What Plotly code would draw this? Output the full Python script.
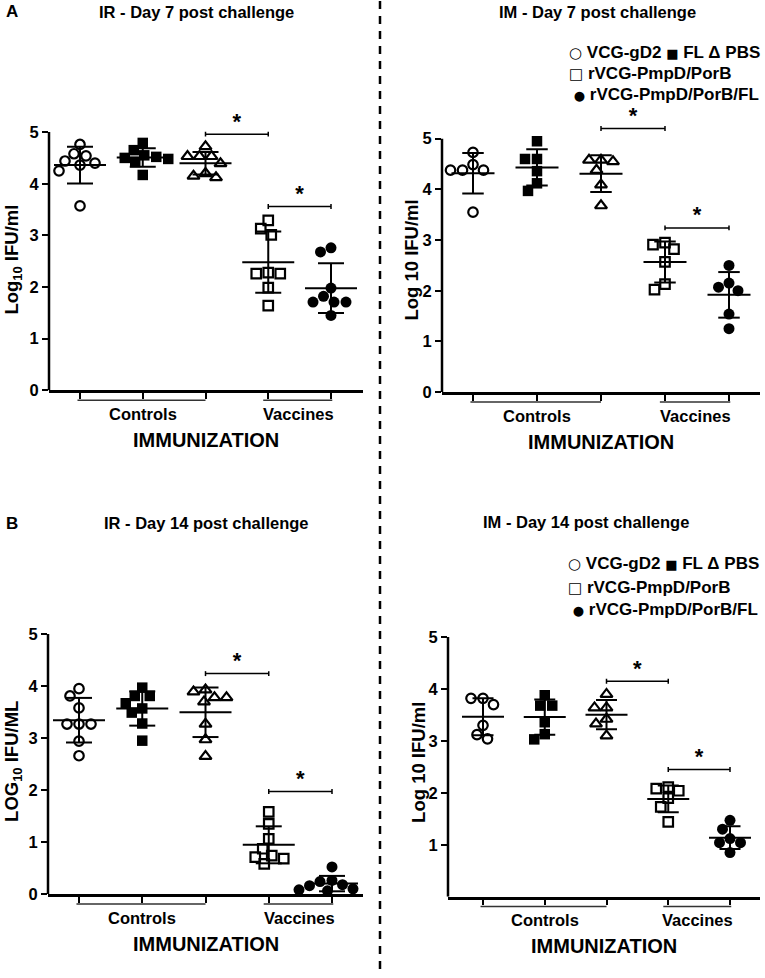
import numpy as np
import plotly.graph_objects as go

W, H = 765, 978
FONT = "Liberation Sans, Arial, sans-serif"

# ---------------- data ----------------
groups = ["VCG-gD2", "FL", "PBS", "rVCG-PmpD/PorB", "rVCG-PmpD/PorB/FL"]
legend_symbols = ["○", "■", "Δ", "□", "●"]
category_labels = ["Controls", "Vaccines"]
x_title = "IMMUNIZATION"
y_ticks = [0, 1, 2, 3, 4, 5]

panel_titles = ["IR - Day 7 post challenge", "IM - Day 7 post challenge",
                "IR - Day 14 post challenge", "IM - Day 14 post challenge"]
y_titles = ["Log<sub>10</sub> IFU/ml", "Log 10 IFU/ml",
            "LOG<sub>10</sub> IFU/ML", "Log 10 IFU/ml"]

# IR - Day 7
ir_d7_vcg_gd2 = [4.76, 4.58, 4.54, 4.44, 4.40, 4.36, 4.25, 3.57]
ir_d7_fl = [4.79, 4.65, 4.55, 4.52, 4.50, 4.48, 4.42, 4.17]
ir_d7_pbs = [4.72, 4.53, 4.53, 4.53, 4.39, 4.20, 4.12, 4.15]
ir_d7_pmpd_porb = [3.29, 3.13, 3.01, 2.28, 2.26, 2.26, 1.99, 1.64]
ir_d7_pmpd_porb_fl = [2.76, 2.68, 1.98, 1.82, 1.71, 1.71, 1.71, 1.45]

# IM - Day 7
im_d7_vcg_gd2 = [4.73, 4.49, 4.38, 4.38, 4.38, 3.55]
im_d7_fl = [4.95, 4.60, 4.60, 4.36, 4.12, 3.97]
im_d7_pbs = [4.58, 4.58, 4.55, 4.38, 4.09, 3.68]
im_d7_pmpd_porb = [2.95, 2.91, 2.82, 2.57, 2.13, 2.02]
im_d7_pmpd_porb_fl = [2.50, 2.15, 2.07, 2.00, 1.54, 1.25]

# IR - Day 14
ir_d14_vcg_gd2 = [3.95, 3.81, 3.58, 3.27, 3.27, 3.27, 2.94, 2.66]
ir_d14_fl = [3.97, 3.81, 3.81, 3.67, 3.57, 3.49, 3.28, 2.95]
ir_d14_pbs = [3.93, 3.89, 3.78, 3.78, 3.70, 3.27, 2.97, 2.65]
ir_d14_pmpd_porb = [1.58, 1.35, 1.06, 0.87, 0.74, 0.71, 0.68, 0.58]
ir_d14_pmpd_porb_fl = [0.52, 0.26, 0.24, 0.18, 0.16, 0.10, 0.08, 0.06]

# IM - Day 14
im_d14_vcg_gd2 = [3.82, 3.82, 3.70, 3.30, 3.12, 3.04]
im_d14_fl = [3.88, 3.68, 3.68, 3.36, 3.13, 3.03]
im_d14_pbs = [3.90, 3.64, 3.64, 3.42, 3.33, 3.10]
im_d14_pmpd_porb = [2.11, 2.08, 2.04, 1.90, 1.73, 1.44]
im_d14_pmpd_porb_fl = [1.47, 1.30, 1.12, 1.04, 1.04, 0.85]

# significance comparisons: (from group, to group)
sig_pairs = [(3, 4), (4, 5)]

# ---------------- layout / style ----------------
YMAX = 5.6
marker_styles = [
    dict(symbol="circle-open", size=9.5, color="black", line=dict(width=2.2, color="black")),
    dict(symbol="square", size=10.5, color="black", line=dict(width=0)),
    dict(symbol="triangle-up-open", size=10.5, color="black", line=dict(width=2.2, color="black")),
    dict(symbol="square-open", size=9.5, color="black", line=dict(width=2.2, color="black")),
    dict(symbol="circle", size=11, color="black", line=dict(width=0)),
]

panels = [
    dict(data=[ir_d7_vcg_gd2, ir_d7_fl, ir_d7_pbs, ir_d7_pmpd_porb, ir_d7_pmpd_porb_fl],
         xpx=(49, 363), t1=80, t5=331, y0px=394, y5px=133.3, mean_hw=26, sig_y=[4.96, 3.56],
         yticks=y_ticks, title_xy=(197, 12), ytitle_xy=(13, 262), legend=None, letter=("A", 12, 12)),
    dict(data=[im_d7_vcg_gd2, im_d7_fl, im_d7_pbs, im_d7_pmpd_porb, im_d7_pmpd_porb_fl],
         xpx=(442, 760), t1=473, t5=729, y0px=395.7, y5px=140, mean_hw=21.5, sig_y=[5.2, 3.24],
         yticks=y_ticks, title_xy=(597, 12), ytitle_xy=(412, 263), legend=(567, [53, 74, 95]), letter=None),
    dict(data=[ir_d14_vcg_gd2, ir_d14_fl, ir_d14_pbs, ir_d14_pmpd_porb, ir_d14_pmpd_porb_fl],
         xpx=(48, 363), t1=79, t5=332, y0px=902.3, y5px=640, mean_hw=26, sig_y=[4.24, 1.97],
         yticks=y_ticks, title_xy=(206, 528), ytitle_xy=(13, 769), legend=None, letter=("B", 12, 528)),
    dict(data=[im_d14_vcg_gd2, im_d14_fl, im_d14_pbs, im_d14_pmpd_porb, im_d14_pmpd_porb_fl],
         xpx=(448, 760), t1=483, t5=730, y0px=905, y5px=643, mean_hw=21, sig_y=[4.15, 2.45],
         yticks=y_ticks[1:], title_xy=(586, 527), ytitle_xy=(419, 770), legend=(566, [569, 593, 615]), letter=None),
]


def swarm(vals, xppu, yppu, diam=11.0, step=1.5):
    order = sorted(range(len(vals)), key=lambda i: -vals[i])
    placed, offs = [], [0.0] * len(vals)
    for i in order:
        ypx = vals[i] * yppu
        m = 0
        while True:
            cands = [0.0] if m == 0 else [-m * step, m * step]
            ok = None
            for c in cands:
                if all((c - px) ** 2 + (ypx - py) ** 2 >= diam ** 2 for px, py in placed):
                    ok = c
                    break
            if ok is not None:
                offs[i] = ok
                placed.append((ok, ypx))
                break
            m += 1
    return [o / xppu for o in offs]


def bold(size):
    return dict(family=FONT, size=size, color="black", weight="bold")


def sym(s, size):
    return '<span style="font-family:DejaVu Sans;font-size:%dpx">%s</span>' % (size, s)


fig = go.Figure()
shapes, annotations = [], []
legend_lines = [sym(legend_symbols[0], 15) + " " + groups[0] + " " + sym(legend_symbols[1], 13) + " "
                + groups[1] + " " + legend_symbols[2] + " " + groups[2],
                sym(legend_symbols[3], 15) + " " + groups[3],
                " " + sym(legend_symbols[4], 13) + " " + groups[4]]

for k, p in enumerate(panels):
    sfx = "" if k == 0 else str(k + 1)
    xa, ya = "x" + sfx, "y" + sfx
    xppu = (p["t5"] - p["t1"]) / 4.0
    yppu = (p["y0px"] - p["y5px"]) / 5.0
    x_left = 1 - (p["t1"] - p["xpx"][0]) / xppu
    x_right = x_left + (p["xpx"][1] - p["xpx"][0]) / xppu
    top_px = p["y0px"] - YMAX * yppu
    plot_h = p["y0px"] - top_px

    fig.layout["xaxis" + sfx] = dict(
        domain=[p["xpx"][0] / W, p["xpx"][1] / W], range=[x_left, x_right], anchor=ya,
        showline=True, linewidth=2.5, linecolor="black", ticks="outside", ticklen=6,
        tickwidth=2, tickcolor="black", tickvals=[1, 2, 3, 4, 5], showticklabels=False,
        showgrid=False, zeroline=False, fixedrange=True)
    fig.layout["yaxis" + sfx] = dict(
        domain=[1 - p["y0px"] / H, 1 - top_px / H], range=[0, YMAX], anchor=xa,
        showline=False, ticks="outside", ticklen=6, tickwidth=2, tickcolor="black",
        tickvals=p["yticks"], ticktext=[str(t) for t in p["yticks"]], tickfont=bold(16.5),
        showgrid=False, zeroline=False, fixedrange=True)

    # y axis line from 0 to 5
    shapes.append(dict(type="line", xref=xa + " domain", yref=ya, x0=0, x1=0, y0=0, y1=5,
                       line=dict(color="black", width=2.5)))

    # data points
    mx, my = [], []
    for g, vals in enumerate(p["data"]):
        c = g + 1
        offs = swarm(vals, xppu, yppu)
        fig.add_trace(go.Scatter(x=[c + o for o in offs], y=vals, mode="markers",
                                 marker=marker_styles[g], xaxis=xa, yaxis=ya,
                                 name=groups[g], showlegend=False, cliponaxis=False))
        m = float(np.mean(vals))
        sd = float(np.std(vals, ddof=1))
        hw = p["mean_hw"] / xppu
        cw = hw * 0.5
        mx += [c - hw, c + hw, None, c, c, None, c - cw, c + cw, None, c - cw, c + cw, None]
        my += [m, m, None, m - sd, m + sd, None, m + sd, m + sd, None, m - sd, m - sd, None]
    fig.add_trace(go.Scatter(x=mx, y=my, mode="lines", line=dict(color="black", width=2),
                             xaxis=xa, yaxis=ya, showlegend=False, hoverinfo="skip"))

    # significance bars
    sx, sy, tx, ty = [], [], [], []
    cap = 2.5 / yppu
    for (a, b), yb in zip(sig_pairs, p["sig_y"]):
        sx += [a, a, None, a, b, None, b, b, None]
        sy += [yb - cap, yb + cap, None, yb, yb, None, yb - cap, yb + cap, None]
        tx.append((a + b) / 2.0)
        ty.append(yb)
    fig.add_trace(go.Scatter(x=sx, y=sy, mode="lines", line=dict(color="black", width=1.5),
                             xaxis=xa, yaxis=ya, showlegend=False, hoverinfo="skip"))
    fig.add_trace(go.Scatter(x=tx, y=ty, mode="text", text=["*"] * len(tx),
                             textposition="top center", textfont=bold(22),
                             xaxis=xa, yaxis=ya, showlegend=False, hoverinfo="skip",
                             cliponaxis=False))

    # category underlines and labels
    ul_y = -10.0 / plot_h
    shapes.append(dict(type="line", xref=xa, yref=ya + " domain", x0=0.96, x1=3.0, y0=ul_y, y1=ul_y,
                       line=dict(color="#333333", width=1.5)))
    shapes.append(dict(type="line", xref=xa, yref=ya + " domain", x0=3.92, x1=5.02, y0=ul_y, y1=ul_y,
                       line=dict(color="#333333", width=1.5)))
    annotations.append(dict(text=category_labels[0], xref=xa, yref=ya + " domain", x=2.0,
                            y=-24.0 / plot_h, showarrow=False, xanchor="center", yanchor="middle",
                            font=bold(16.5)))
    annotations.append(dict(text=category_labels[1], xref=xa, yref=ya + " domain", x=4.48,
                            y=-24.0 / plot_h, showarrow=False, xanchor="center", yanchor="middle",
                            font=bold(16.5)))
    annotations.append(dict(text=x_title, xref=xa + " domain", yref=ya + " domain", x=0.5,
                            y=-50.0 / plot_h, showarrow=False, xanchor="center", yanchor="middle",
                            font=bold(20)))

    # titles
    annotations.append(dict(text=panel_titles[k], xref="paper", yref="paper",
                            x=p["title_xy"][0] / W, y=1 - p["title_xy"][1] / H, showarrow=False,
                            xanchor="center", yanchor="middle", font=bold(16.5)))
    annotations.append(dict(text=y_titles[k], xref="paper", yref="paper", textangle=-90,
                            x=p["ytitle_xy"][0] / W, y=1 - p["ytitle_xy"][1] / H, showarrow=False,
                            xanchor="center", yanchor="middle", font=bold(18.5)))
    if p["letter"]:
        L, lx, ly = p["letter"]
        annotations.append(dict(text=L, xref="paper", yref="paper", x=lx / W, y=1 - ly / H,
                                showarrow=False, xanchor="center", yanchor="middle", font=bold(17)))
    if p["legend"]:
        lx, lys = p["legend"]
        for line, ly in zip(legend_lines, lys):
            annotations.append(dict(text=line, xref="paper", yref="paper", x=lx / W, y=1 - ly / H,
                                    showarrow=False, xanchor="left", yanchor="middle",
                                    font=bold(17)))

# dashed divider
shapes.append(dict(type="line", xref="paper", yref="paper", x0=380 / W, x1=380 / W, y0=0, y1=1,
                   line=dict(color="black", width=2.5, dash="8px,7px")))

fig.update_layout(width=W, height=H, margin=dict(l=0, r=0, t=0, b=0),
                  plot_bgcolor="white", paper_bgcolor="white", showlegend=False,
                  shapes=shapes, annotations=annotations, font=dict(family=FONT))

fig.write_html("out.html", config={"displayModeBar": False},
               post_script="document.body.style.margin='0';document.body.style.overflow='hidden';")
